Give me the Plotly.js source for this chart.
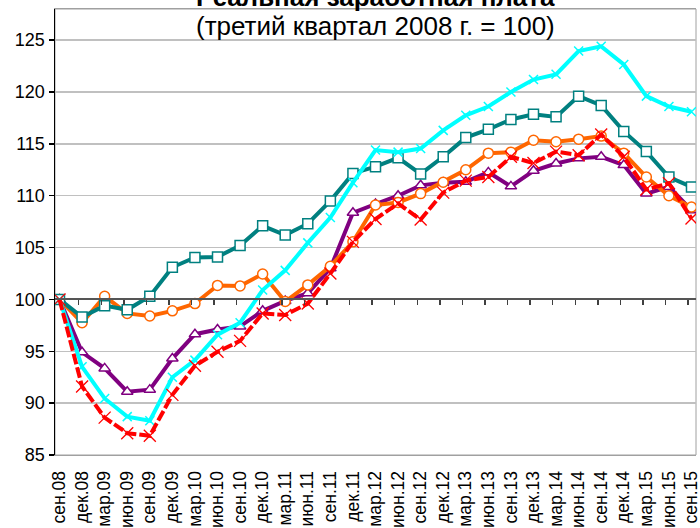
<!DOCTYPE html>
<html><head><meta charset="utf-8">
<script src="https://cdn.plot.ly/plotly-3.0.1.min.js"></script>
<style>html,body{margin:0;padding:0;background:#fff}#chart{width:700px;height:528px}</style>
</head><body><div id="chart"></div>
<script>
const labels = ['сен.08','дек.08','мар.09','июн.09','сен.09','дек.09','мар.10','июн.10','сен.10','дек.10','мар.11','июн.11','сен.11','дек.11','мар.12','июн.12','сен.12','дек.12','мар.13','июн.13','сен.13','дек.13','мар.14','июн.14','сен.14','дек.14','мар.15','июн.15','сен.15'];
const seriesTeal   = [100, 98.3, 99.4, 99.0, 100.3, 103.1, 104.05, 104.1, 105.2, 107.1, 106.2, 107.3, 109.5, 112.15, 112.8, 113.65, 112.1, 113.75, 115.6, 116.4, 117.35, 117.85, 117.6, 119.6, 118.7, 116.2, 114.25, 111.8, 110.85];
const seriesOrange = [100, 97.75, 100.3, 98.65, 98.4, 98.9, 99.6, 101.35, 101.3, 102.45, 99.8, 101.4, 103.2, 105.55, 109.1, 109.35, 110.2, 111.3, 112.5, 114.1, 114.2, 115.35, 115.2, 115.45, 115.75, 114.1, 111.8, 110.0, 108.9];
const seriesPurple = [100, 94.9, 93.35, 91.1, 91.3, 94.3, 96.65, 97.1, 97.4, 98.9, 99.85, 100.6, 103.0, 108.35, 109.2, 110.0, 111.0, 111.25, 111.35, 112.25, 110.9, 112.4, 113.1, 113.6, 113.75, 112.95, 110.2, 110.85, 108.6];
const seriesCyan   = [100, 93.5, 90.45, 88.7, 88.3, 92.5, 94.15, 96.6, 97.75, 100.9, 102.8, 105.45, 107.9, 111.25, 114.4, 114.2, 114.55, 116.3, 117.75, 118.6, 120.0, 121.2, 121.7, 123.95, 124.4, 122.65, 119.6, 118.6, 118.1];
const seriesRed    = [100, 91.6, 88.6, 87.1, 86.85, 90.8, 93.6, 94.95, 96.0, 98.65, 98.5, 99.6, 102.5, 105.55, 107.75, 109.25, 107.7, 110.3, 111.45, 111.8, 113.75, 113.15, 114.25, 113.9, 115.9, 113.75, 110.6, 111.2, 107.8];
const yTicks = [85, 90, 95, 100, 105, 110, 115, 120, 125];
const baseValue = 100;

const idx = labels.map((_, i) => i);
const yMin = 85, yMax = 128;
const xMin = -0.2, xMax = 28.2;
const FONT = 'Liberation Sans, Arial, sans-serif';

function tr(y, color, symbol, extra) {
  return Object.assign({
    x: idx, y: y, type: 'scatter', mode: 'lines+markers', showlegend: false, hoverinfo: 'skip',
    line: {color: color, width: 4},
    marker: {symbol: symbol, size: 10, color: '#ffffff', line: {color: color, width: 1.5}}
  }, extra || {});
}

const data = [
  tr(seriesPurple, '#800080', 'triangle-up'),
  tr(seriesOrange, '#FF6600', 'circle'),
  tr(seriesTeal, '#008080', 'square'),
  tr(seriesCyan, '#00FFFF', 'x-thin-open', {marker: {symbol: 'x-thin-open', size: 9, color: '#00FFFF', line: {color: '#00FFFF', width: 1.5}}}),
  tr(seriesRed, '#FF0000', 'x-thin-open', {line: {color: '#FF0000', width: 4, dash: '11px,3px'}, marker: {symbol: 'x-thin-open', size: 12, color: '#FF0000', line: {color: '#FF0000', width: 1.3}}}),
  {x: idx, y: seriesTeal, xaxis: 'x2', type: 'scatter', mode: 'markers', marker: {opacity: 0}, showlegend: false, hoverinfo: 'skip'}
];

const layout = {
  width: 700, height: 528,
  margin: {l: 55, r: 4, t: 9, b: 73, pad: 0},
  paper_bgcolor: '#ffffff', plot_bgcolor: '#ffffff',
  font: {family: FONT, color: '#000'},
  showlegend: false,
  xaxis: {
    range: [xMin, xMax], tickmode: 'array', tickvals: idx, ticktext: labels,
    tickangle: -90, tickfont: {size: 17.5, family: FONT}, ticklabeloverflow: 'allow',
    ticks: 'outside', ticklen: 8, tickcolor: 'rgba(0,0,0,0)', showgrid: false, zeroline: false,
    showline: true, linecolor: '#a0a0a0', linewidth: 1, mirror: true, fixedrange: true, automargin: false
  },
  xaxis2: {
    overlaying: 'x', anchor: 'free', position: (baseValue - yMin) / (yMax - yMin), side: 'bottom',
    range: [xMin, xMax], tickmode: 'array', tickvals: idx.slice(1).map(i => i - 0.15),
    ticks: 'outside', ticklen: 5, tickwidth: 1.5, tickcolor: '#404040', showticklabels: false,
    showgrid: false, zeroline: false, showline: true, linecolor: '#555555', linewidth: 2
  },
  yaxis: {
    range: [yMin, yMax], tickmode: 'array', tickvals: yTicks, ticktext: yTicks.map(String),
    tickfont: {size: 18, family: FONT}, ticks: 'outside', ticklen: 5, tickwidth: 1.5, tickcolor: '#000',
    showgrid: true, gridcolor: '#c0c0c0', gridwidth: 1.5, zeroline: false,
    showline: true, linecolor: '#000', linewidth: 1.5, fixedrange: true
  },
  shapes: [{type: 'rect', xref: 'paper', yref: 'paper', x0: 0, x1: 1, y0: 0, y1: 1, line: {color: '#a0a0a0', width: 1}, layer: 'below'}],
  annotations: [
    {text: '<b>Реальная заработная плата</b>', xref: 'paper', yref: 'paper', x: 0.5, y: 1.0275, xanchor: 'center', yanchor: 'middle', showarrow: false, font: {size: 26, family: FONT, color: '#000'}},
    {text: '(третий квартал 2008 г. = 100)', xref: 'paper', yref: 'paper', x: 0.5, y: 0.963, xanchor: 'center', yanchor: 'middle', showarrow: false, font: {size: 26, family: FONT, color: '#000'}}
  ]
};

Plotly.newPlot('chart', data, layout, {staticPlot: true, displayModeBar: false});
</script>
</body></html>
